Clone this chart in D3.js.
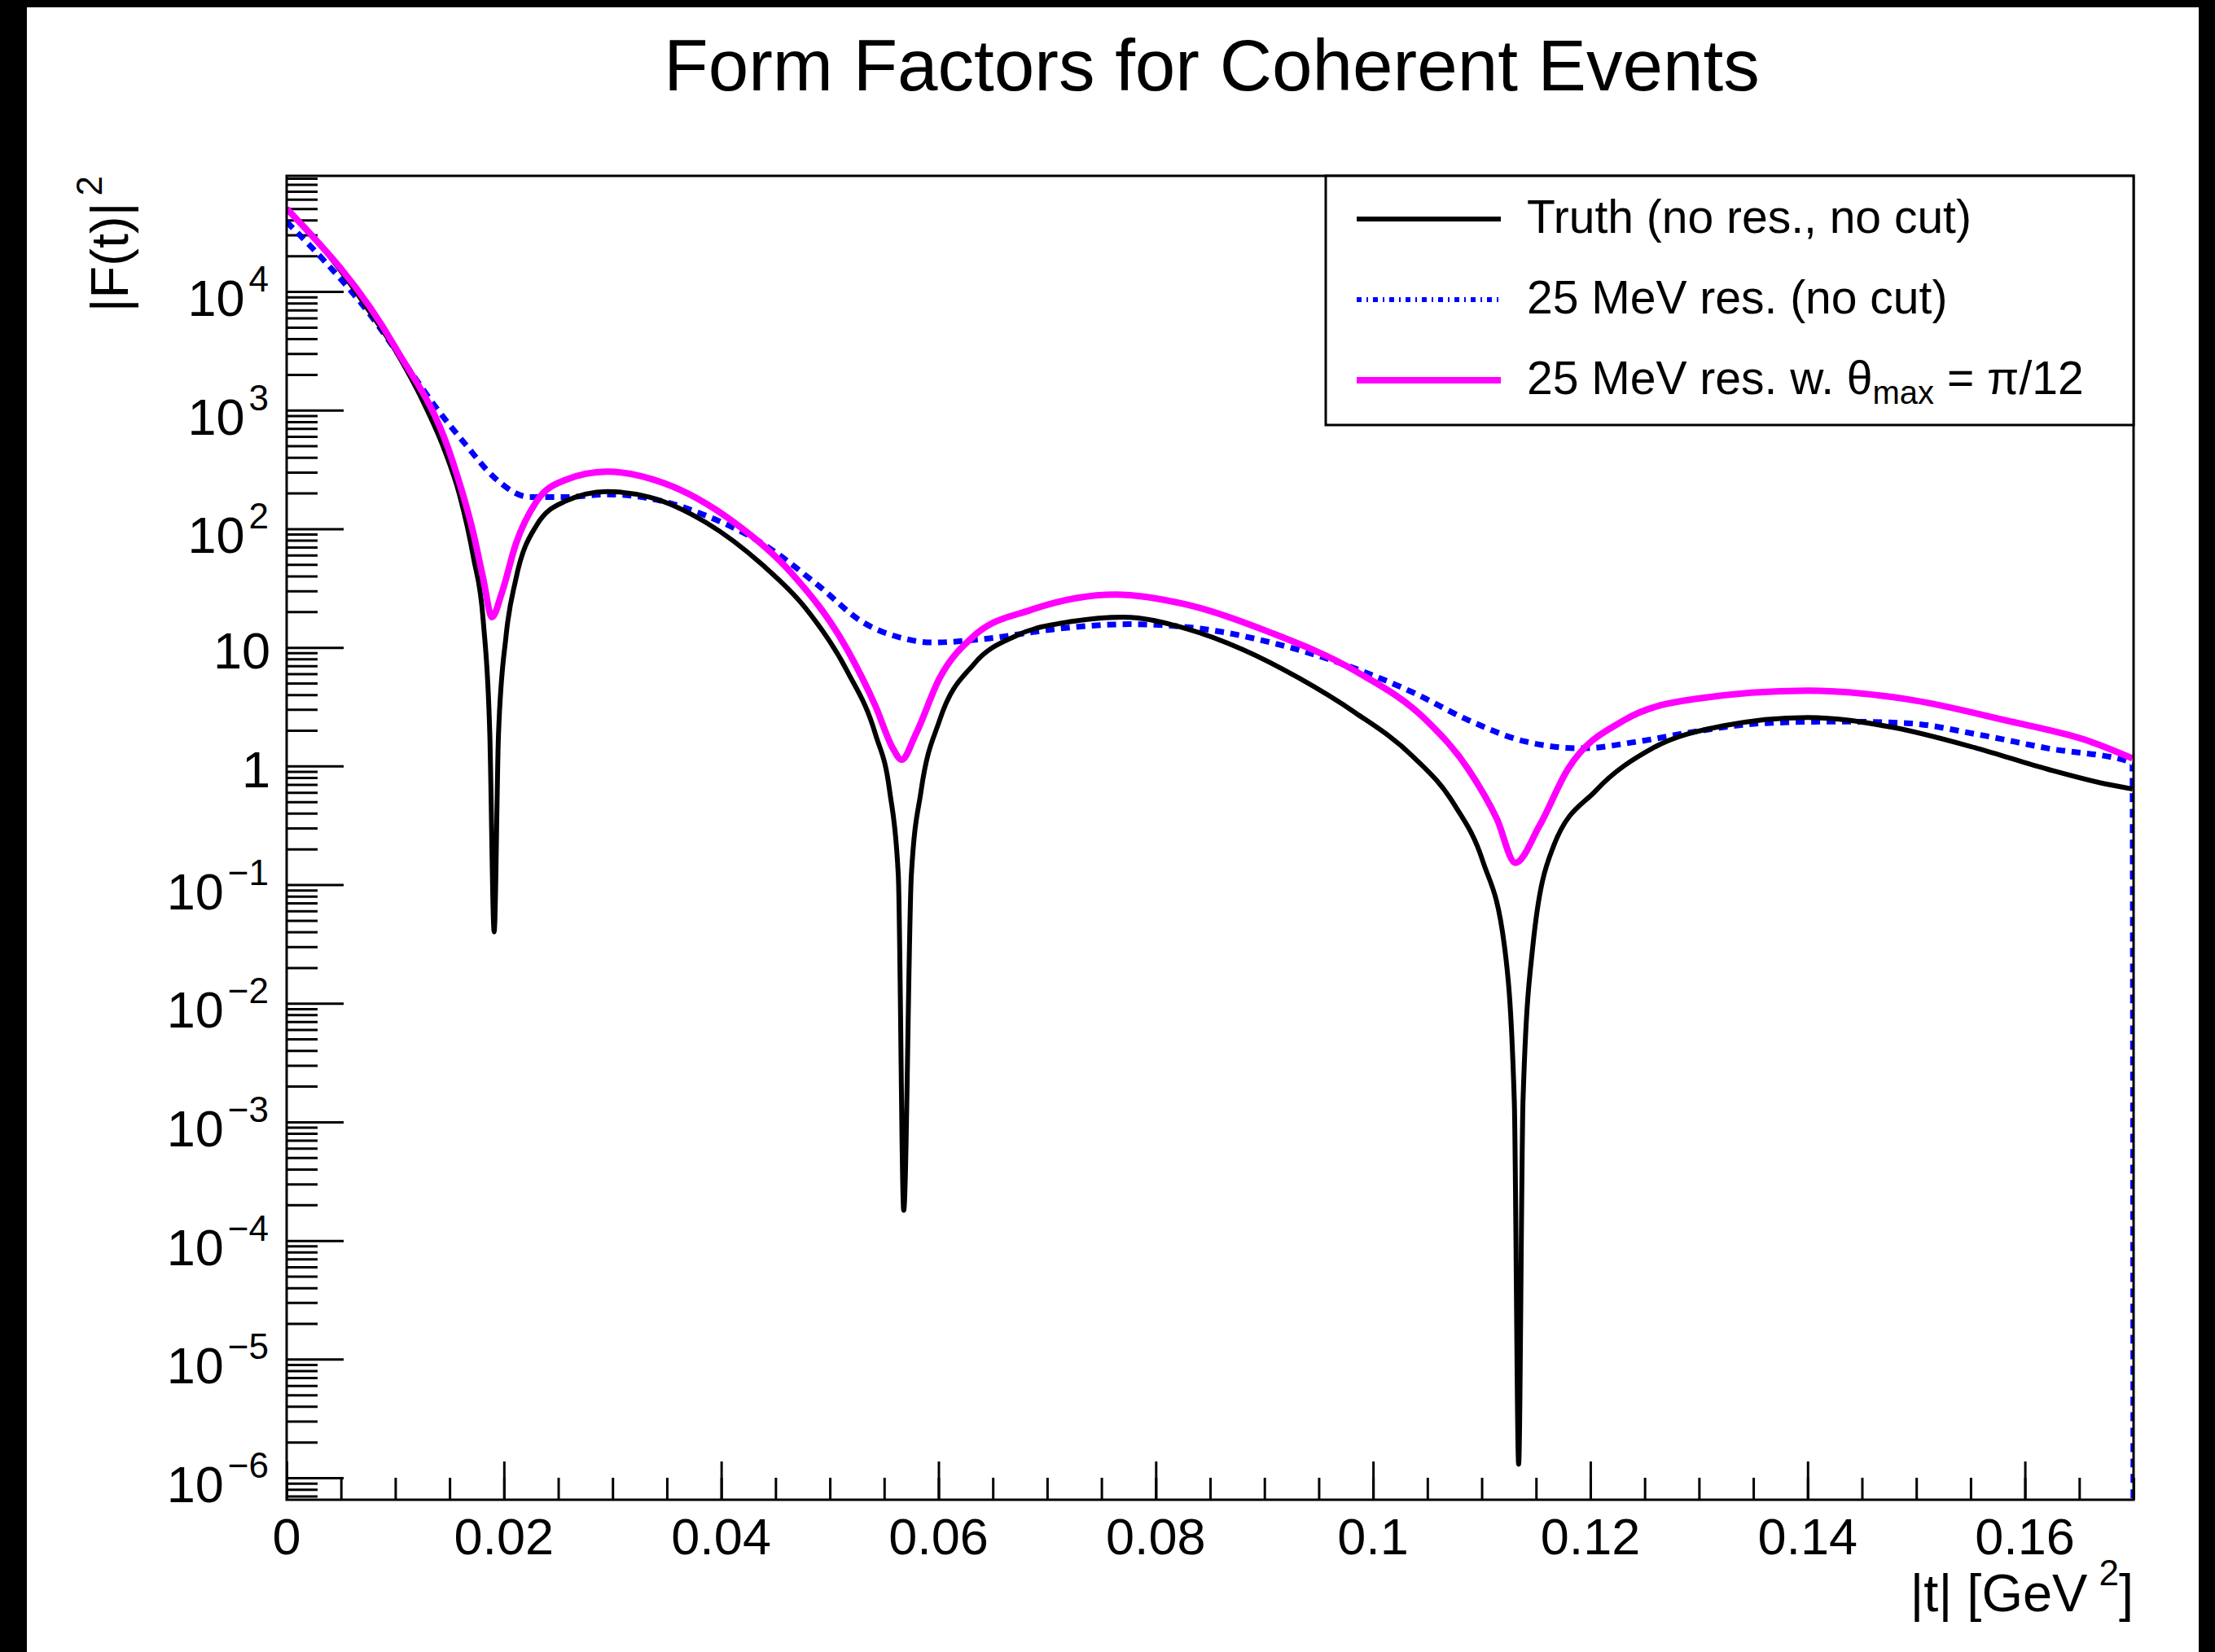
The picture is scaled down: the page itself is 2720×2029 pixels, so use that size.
<!DOCTYPE html>
<html>
<head>
<meta charset="utf-8">
<script src="https://cdn.jsdelivr.net/npm/d3@7"></script>
<style>
body{margin:0;background:#000;}
svg{display:block;}
text{font-family:"Liberation Sans",Arial,Helvetica,sans-serif;fill:#000;}
</style>
</head>
<body>
<svg id="svg" width="2720" height="2029"></svg>
<script>
// |t| values (GeV^2) and |F(t)|^2
var truthT=[0,0.0022,0.0048,0.0074,0.0100,0.0126,0.0146,0.0159,0.0172,0.0181,0.0187,0.0191,0.0195,0.0202,0.0211,0.0230,0.0256,0.0295,0.0334,0.0386,0.0438,0.0477,0.0516,0.0542,0.0555,0.0563,0.0568,0.0575,0.0584,0.0601,0.0633,0.0672,0.0724,0.0770,0.0828,0.0880,0.0932,0.0984,0.1036,0.1075,0.1101,0.1121,0.1130,0.1134,0.1138,0.1147,0.1166,0.1205,0.1257,0.1322,0.1400,0.1478,0.1556,0.1621,0.1673,0.1699];
var truthF=[50000,31000,15700,7300,3200,1160,444,195,57,16.6,1.85,0.04,1.85,12.6,37.8,107,170,206,185,113,49.6,21.8,6.3,1.85,0.62,0.12,0.00018,0.12,0.62,2.43,7.3,12.6,16.6,18,14.4,9.6,5.5,2.8,1.22,0.47,0.158,0.030,0.0015,0.0000013,0.0015,0.030,0.21,0.62,1.41,2.18,2.57,2.12,1.41,0.94,0.71,0.64];

var resT=[0,0.0035,0.0074,0.0113,0.0139,0.0165,0.0191,0.0224,0.0256,0.0295,0.0347,0.0386,0.0438,0.0490,0.0529,0.0568,0.0594,0.0646,0.0711,0.0776,0.0841,0.0906,0.0971,0.1036,0.1088,0.1140,0.1192,0.1244,0.1296,0.1361,0.1426,0.1491,0.1556,0.1621,0.1699,0.1700];
var resF=[38700,18000,6900,2180,1010,510,271,185,185,195,170,129,75,32.9,16.6,11.9,11,11.9,14.4,15.7,14.4,11,7.3,4.2,2.43,1.61,1.41,1.61,1.95,2.3,2.37,2.3,1.85,1.41,1.07,1e-8];

var cutT=[0,0.0100,0.0152,0.0172,0.0181,0.0189,0.0198,0.0211,0.0230,0.0256,0.0295,0.0347,0.0412,0.0464,0.0516,0.0542,0.0558,0.0566,0.0579,0.0601,0.0633,0.0685,0.0763,0.0828,0.0906,0.0984,0.1049,0.1088,0.1114,0.1131,0.1153,0.1179,0.1231,0.1296,0.1400,0.1491,0.1582,0.1660,0.1699];
var cutF=[50000,3380,389,90.6,37.8,18,28.7,74.8,170,257,303,243,113,43,9.6,3.2,1.41,1.13,1.85,5.5,12.6,20.7,27.9,23,13.3,6.3,2.43,0.93,0.358,0.153,0.312,0.93,2.43,3.67,4.32,3.67,2.43,1.61,1.16];

var xTickLabels=["0","0.02","0.04","0.06","0.08","0.1","0.12","0.14","0.16"];
var yTickExps=[4,3,2,1,0,-1,-2,-3,-4,-5,-6];
var legendLabels=["Truth (no res., no cut)","25 MeV res. (no cut)","25 MeV res. w. θ"];

var svg=d3.select("#svg");

var frame={left:352,right:2620,top:216,bottom:1842};

var xScale=d3.scaleLinear().domain([0,0.17]).range([frame.left,frame.right]);
var yScale=d3.scaleLog().domain([Math.pow(10,-6.185),Math.pow(10,4.975)]).range([frame.bottom,frame.top]);

// page background: black edge, white canvas
svg.append("rect").attr("width",2720).attr("height",2029).attr("fill","#000");
svg.append("rect").attr("x",33).attr("y",9).attr("width",2667).attr("height",2020).attr("fill","#fff");

svg.append("text")
    .attr("x",1488).attr("y",111)
    .attr("text-anchor","middle")
    .attr("font-size",89)
    .text("Form Factors for Coherent Events");

// x axis ticks (pointing up into the frame)
var xMinor=d3.range(0,0.1701,0.005);
svg.append("g")
    .attr("transform","translate(0,"+frame.bottom+")")
    .call(d3.axisTop(xScale).tickValues(xMinor).tickSize(27).tickFormat(""))
    .call(function(g){g.select(".domain").remove();g.selectAll("line").attr("stroke-width",3);});
svg.append("g")
    .attr("transform","translate(0,"+frame.bottom+")")
    .call(d3.axisTop(xScale).tickValues(xTickLabels.map(Number)).tickSize(47).tickFormat(""))
    .call(function(g){g.select(".domain").remove();g.selectAll("line").attr("stroke-width",3);});

svg.append("g").selectAll("text")
    .data(xTickLabels)
    .enter().append("text")
    .attr("x",function(d){return xScale(+d);})
    .attr("y",1909)
    .attr("text-anchor","middle")
    .attr("font-size",63)
    .text(function(d){return d;});

// y axis ticks (pointing right into the frame)
var yMinor=[];
for(var k=-7;k<=4;k++){
    for(var m=2;m<=9;m++){
        var v=m*Math.pow(10,k);
        if(v>yScale.domain()[0]&&v<yScale.domain()[1]) yMinor.push(v);
    }
}
svg.append("g")
    .attr("transform","translate("+frame.left+",0)")
    .call(d3.axisRight(yScale).tickValues(yMinor).tickSize(38).tickFormat(""))
    .call(function(g){g.select(".domain").remove();g.selectAll("line").attr("stroke-width",3);});
svg.append("g")
    .attr("transform","translate("+frame.left+",0)")
    .call(d3.axisRight(yScale).tickValues(yTickExps.map(function(e){return Math.pow(10,e);})).tickSize(70).tickFormat(""))
    .call(function(g){g.select(".domain").remove();g.selectAll("line").attr("stroke-width",3);});

var yLab=svg.append("g").selectAll("text")
    .data(yTickExps)
    .enter().append("text")
    .attr("text-anchor","end")
    .attr("font-size",63)
    .attr("x",function(d){return (d==0||d==1)?332:330;})
    .attr("y",function(d){return yScale(Math.pow(10,d))+((d==0||d==1)?26:30);});
yLab.append("tspan").text(function(d){return d==0?"1":"10";});
yLab.filter(function(d){return d!=0&&d!=1;})
    .append("tspan")
    .attr("dx",5).attr("dy",-30)
    .attr("font-size",44)
    .text(function(d){return d<0?"\u2212"+(-d):String(d);});

// axis titles
svg.append("text")
    .attr("x",frame.right).attr("y",1979)
    .attr("text-anchor","end")
    .attr("font-size",65)
    .call(function(t){
        t.append("tspan").text("|t| [GeV");
        t.append("tspan").attr("dx",14).attr("dy",-32).attr("font-size",44).text("2");
        t.append("tspan").attr("dy",32).text("]");
    });
svg.append("text")
    .attr("transform","translate(157,"+frame.top+") rotate(-90)")
    .attr("text-anchor","end")
    .attr("font-size",65)
    .call(function(t){
        t.append("tspan").text("|F(t)|");
        t.append("tspan").attr("dx",8).attr("dy",-32).attr("font-size",44).text("2");
    });

// curves
svg.append("clipPath").attr("id","plotClip")
    .append("rect")
    .attr("x",frame.left).attr("y",frame.top)
    .attr("width",frame.right-frame.left).attr("height",frame.bottom-frame.top);

var line=d3.line()
    .x(function(d){return xScale(d.t);})
    .y(function(d){return yScale(d.v);})
    .curve(d3.curveMonotoneX);

function zip(ts,vs){return ts.map(function(t,i){return {t:t,v:vs[i]};});}

var series=[
    {data:zip(resT,resF),color:"#0000ff",width:7,dash:"11,8"},
    {data:zip(truthT,truthF),color:"#000000",width:6,dash:null},
    {data:zip(cutT,cutF),color:"#ff00ff",width:8,dash:null}
];

var curveGrp=svg.append("g").attr("clip-path","url(#plotClip)");
curveGrp.selectAll("path")
    .data(series)
    .enter().append("path")
    .attr("d",function(d){return line(d.data);})
    .attr("fill","none")
    .attr("stroke",function(d){return d.color;})
    .attr("stroke-width",function(d){return d.width;})
    .attr("stroke-dasharray",function(d){return d.dash;})
    .attr("stroke-linejoin","round");

// frame
svg.append("rect")
    .attr("x",frame.left).attr("y",frame.top)
    .attr("width",frame.right-frame.left).attr("height",frame.bottom-frame.top)
    .attr("fill","none").attr("stroke","#000").attr("stroke-width",3);

// legend
var legend={x:1628,y:216,w:992,h:306};
svg.append("rect")
    .attr("x",legend.x).attr("y",legend.y)
    .attr("width",legend.w).attr("height",legend.h)
    .attr("fill","#fff").attr("stroke","#000").attr("stroke-width",3);

var legendStyle=[series[1],series[0],series[2]];
var rowY=[269,368,467];
var legRow=svg.append("g").selectAll("g")
    .data(legendLabels)
    .enter().append("g")
    .attr("transform",function(d,i){return "translate(0,"+rowY[i]+")";});
legRow.append("line")
    .attr("x1",1666).attr("x2",1843)
    .attr("stroke",function(d,i){return legendStyle[i].color;})
    .attr("stroke-width",function(d,i){return i==1?6:legendStyle[i].width;})
    .attr("stroke-dasharray",function(d,i){return legendStyle[i].dash?"6,6,2,6":null;});
legRow.append("text")
    .attr("x",1875).attr("y",17)
    .attr("font-size",57)
    .text(function(d){return d;});
legRow.filter(function(d,i){return i==2;}).select("text")
    .call(function(t){
        t.append("tspan").attr("dy",12).attr("font-size",40).text("max");
        t.append("tspan").attr("dy",-12).text(" = π/12");
    });
</script>
</body>
</html>
